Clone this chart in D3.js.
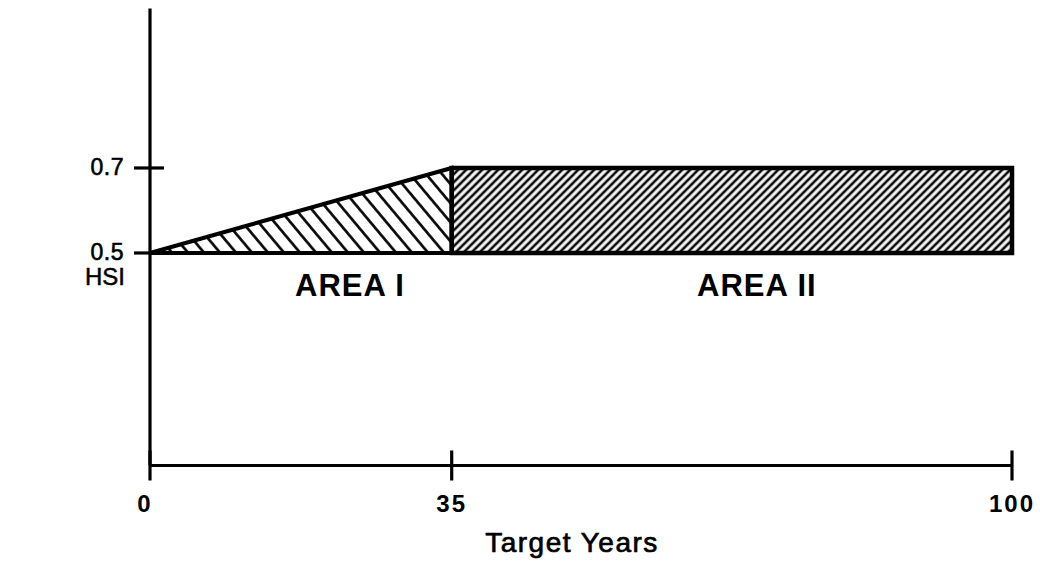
<!DOCTYPE html>
<html>
<head>
<meta charset="utf-8">
<script src="https://cdn.jsdelivr.net/npm/d3@7"></script>
<style>
  html, body { margin: 0; padding: 0; background: #fff; }
  svg { display: block; }
  text { font-family: "Liberation Sans", Arial, Helvetica, sans-serif; fill: #000; }
</style>
</head>
<body>
<svg id="chart" width="1040" height="565"></svg>
<script>
// Habitat suitability index over target years
const xTicks = [0, 35, 100];
const xTickLabels = ["0", "35", "100"];
const yTicks = [0.5, 0.7];
const yTickLabels = ["0.5", "0.7"];
const baseHsi = 0.5;
const areaIYears = [0, 35];
const areaIHsi = [0.5, 0.7];
const areaIIYears = [35, 100];
const areaIIHsi = [0.7, 0.7];
const areaLabels = ["AREA I", "AREA II"];
const areaLabelYears = [23.2, 70.4];
const xTitle = "Target Years";
const yTitle = "HSI";

const svg = d3.select("#chart");

const x = d3.scaleLinear().domain([0, 100]).range([150, 1012]);
const y = d3.scaleLinear().domain([0, 1.075]).range([465.5, 8.6]);

// hatch patterns
const defs = svg.append("defs");
function hatch(id, spacing, angle, width) {
  const p = defs.append("pattern")
    .attr("id", id)
    .attr("patternUnits", "userSpaceOnUse")
    .attr("width", spacing)
    .attr("height", 20)
    .attr("patternTransform", `rotate(${angle})`);
  p.append("line")
    .attr("x1", spacing / 2).attr("y1", -1)
    .attr("x2", spacing / 2).attr("y2", 21)
    .attr("stroke", "#000")
    .attr("stroke-width", width);
}
hatch("hatchWide", 16 * Math.cos(40 * Math.PI / 180), -40, 2.6);
hatch("hatchFine", 8 * Math.cos(45 * Math.PI / 180), 45, 2.6);

// Area I: triangle under the rising line
const areaI = [
  [areaIYears[0], areaIHsi[0]],
  [areaIYears[1], areaIHsi[1]],
  [areaIYears[1], baseHsi]
];
// Area II: rectangle at the plateau
const areaII = [
  [areaIIYears[0], baseHsi],
  [areaIIYears[0], areaIIHsi[0]],
  [areaIIYears[1], areaIIHsi[1]],
  [areaIIYears[1], baseHsi]
];

const line = d3.line().x(d => x(d[0])).y(d => y(d[1])).curve(d3.curveLinearClosed);

svg.append("path")
  .attr("d", line(areaI))
  .attr("fill", "url(#hatchWide)")
  .attr("stroke", "#000")
  .attr("stroke-width", 4)
  .attr("stroke-linejoin", "miter");

svg.append("path")
  .attr("d", line(areaII))
  .attr("fill", "url(#hatchFine)")
  .attr("stroke", "#000")
  .attr("stroke-width", 4.5)
  .attr("stroke-linejoin", "miter");

// axes
const axes = svg.append("g").attr("stroke", "#000").attr("stroke-width", 3.2).attr("stroke-linecap", "butt");
axes.append("line")
  .attr("x1", x(0)).attr("x2", x(0))
  .attr("y1", y(1.075)).attr("y2", y(0));
axes.append("line")
  .attr("x1", x(0)).attr("x2", x(100))
  .attr("y1", y(0)).attr("y2", y(0));

axes.selectAll(".xtick").data(xTicks).join("line")
  .attr("x1", d => x(d)).attr("x2", d => x(d))
  .attr("y1", y(0) - 15).attr("y2", y(0) + 15);

axes.selectAll(".ytick").data(yTicks).join("line")
  .attr("x1", x(0) - 16).attr("x2", x(0) + 14)
  .attr("y1", d => y(d)).attr("y2", d => y(d));

// tick labels
svg.selectAll(".xlab").data(xTicks).join("text")
  .attr("x", (d, i) => x(d) + (i === 0 ? -5 : 0))
  .attr("y", 512)
  .attr("text-anchor", "middle")
  .attr("font-size", 24)
  .attr("font-weight", "bold")
  .attr("letter-spacing", 2)
  .text((d, i) => xTickLabels[i]);

svg.selectAll(".ylab").data(yTicks).join("text")
  .attr("x", 124)
  .attr("y", d => y(d) + 7)
  .attr("text-anchor", "end")
  .attr("font-size", 23)
  .attr("letter-spacing", 0.5)
  .attr("stroke", "#000")
  .attr("stroke-width", 0.6)
  .text((d, i) => yTickLabels[i]);

// area labels
svg.selectAll(".alab").data(areaLabels).join("text")
  .attr("x", (d, i) => x(areaLabelYears[i]))
  .attr("y", 296)
  .attr("text-anchor", "middle")
  .attr("font-size", 31)
  .attr("font-weight", "bold")
  .attr("letter-spacing", 1)
  .text(d => d);

// axis titles
svg.append("text")
  .attr("x", 105).attr("y", 285)
  .attr("text-anchor", "middle")
  .attr("font-size", 24)
  .attr("stroke", "#000")
  .attr("stroke-width", 0.5)
  .text(yTitle);

svg.append("text")
  .attr("x", 572).attr("y", 552)
  .attr("text-anchor", "middle")
  .attr("font-size", 28)
  .attr("letter-spacing", 1.5)
  .attr("stroke", "#000")
  .attr("stroke-width", 0.7)
  .text(xTitle);
</script>
</body>
</html>
